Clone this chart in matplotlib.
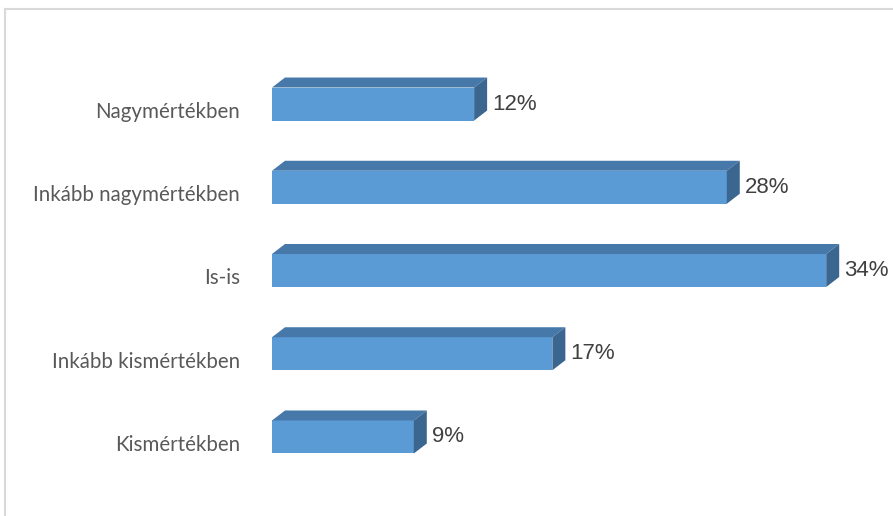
import matplotlib.pyplot as plt
from matplotlib.patches import Polygon
from matplotlib.lines import Line2D
from matplotlib.transforms import ScaledTranslation

# adatok
categories = ["Nagymértékben", "Inkább nagymértékben", "Is-is", "Inkább kismértékben", "Kismértékben"]
values = [12.4, 27.9, 34.0, 17.2, 8.7]
labels = ["12%", "28%", "34%", "17%", "9%"]

W, H = 893, 516
fig = plt.figure(figsize=(W / 100, H / 100), dpi=100)

# szürke keret (bal és felső szél)
fig.add_artist(Line2D([4.5 / W, 4.5 / W], [0, 1 - 8.5 / H], color="#D9D9D9", lw=1.5))
fig.add_artist(Line2D([4.5 / W, 1], [1 - 8.5 / H, 1 - 8.5 / H], color="#D9D9D9", lw=1.5))

px_per_unit = 16.3
left_px, top_px, bot_px = 272, 62.4, 478.6
ax = fig.add_axes([left_px / W, 1 - bot_px / H, (W - left_px) / W, (bot_px - top_px) / H])
ax.set_xlim(0, (W - left_px) / px_per_unit)
ax.set_ylim(4.5, -0.5)
row_px = (bot_px - top_px) / 5

bh = 33 / row_px
dx = 13 / px_per_unit
dy = 10 / row_px

front = "#5B9BD5"
top_c = "#4679AA"
side_c = "#3A6690"

y = list(range(len(categories)))
ax.barh(y, values, height=bh, color=front, zorder=2)
for yi, v, lab in zip(y, values, labels):
    y0 = yi - bh / 2
    y1 = yi + bh / 2
    ax.add_patch(Polygon([[0, y0], [v, y0], [v + dx, y0 - dy], [dx, y0 - dy]],
                         closed=True, color=top_c, lw=0, zorder=2))
    ax.add_patch(Polygon([[v, y0], [v + dx, y0 - dy], [v + dx, y1 - dy], [v, y1]],
                         closed=True, color=side_c, lw=0, zorder=2))
    ax.text(v + dx + 5 / px_per_unit, yi, lab, va="center", ha="left",
            fontsize=16, color="#404040", family="Liberation Sans")

ax.set_yticks(y)
ax.set_yticklabels(categories, fontsize=14.8, color="#595959", family="Lato")
ax.tick_params(axis="y", length=0, pad=23)
# a kategória feliratok kicsit lejjebb vannak
shift = ScaledTranslation(0, -6 / 100, fig.dpi_scale_trans)
for t in ax.get_yticklabels():
    t.set_transform(t.get_transform() + shift)
ax.set_xticks([])
for s in ax.spines.values():
    s.set_visible(False)

fig.savefig("out.png", dpi=100)
